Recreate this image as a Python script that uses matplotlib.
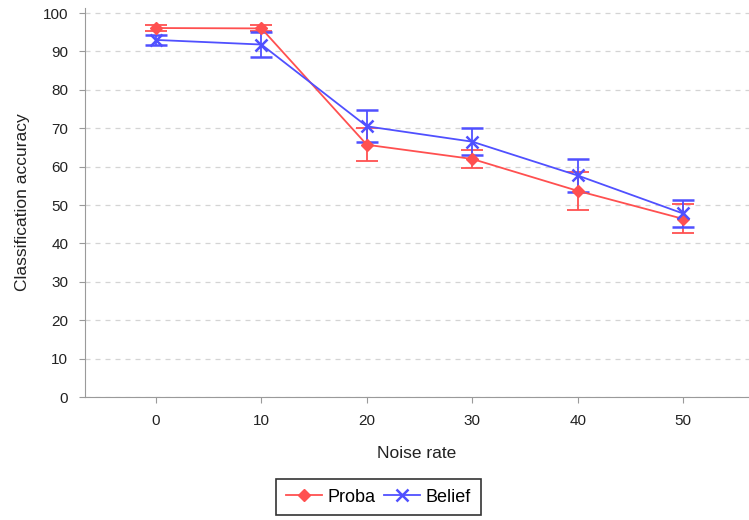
import numpy as np
import matplotlib.pyplot as plt
from matplotlib.lines import Line2D

plt.rcParams['font.family'] = ['Liberation Sans', 'DejaVu Sans']

noise = [0, 10, 20, 30, 40, 50]
proba = [96.1, 96.0, 65.7, 62.0, 53.7, 46.4]
proba_err = [0.8, 0.8, 4.3, 2.3, 5.0, 3.8]
belief = [93.0, 91.8, 70.5, 66.5, 57.7, 47.8]
belief_err = [1.3, 3.2, 4.2, 3.5, 4.2, 3.5]

red = '#ff5050'
blue = '#5050ff'

fig = plt.figure(figsize=(7.49, 5.2), dpi=100)
ax = fig.add_axes([0.1135, 0.2365, 0.8865, 0.748])

ax.errorbar(noise, proba, yerr=proba_err, color=red, marker='D', ms=6,
            lw=1.3, capsize=8, capthick=1.3, elinewidth=1.3, zorder=3)
ax.errorbar(noise, belief, yerr=belief_err, color=blue, marker='x', ms=9, mew=1.8,
            lw=1.3, capsize=8, capthick=1.3, elinewidth=1.3, zorder=3)

ax.set_xlim(-6.74, 56.26)
ax.set_ylim(0, 101.3)
ax.set_xticks(noise)
ax.set_yticks(np.arange(0, 101, 10))
ax.yaxis.grid(True, linestyle=(0, (4, 4)), color='#d4d4d4', lw=0.9)
ax.set_axisbelow(True)

for s in ['top', 'right']:
    ax.spines[s].set_visible(False)
for s in ['left', 'bottom']:
    ax.spines[s].set_color('#9a9a9a')
ax.tick_params(colors='#9a9a9a', labelcolor='#222222', labelsize=11, length=4)
ax.tick_params(axis='y', pad=8)
ax.tick_params(axis='x', pad=8)

ax.set_xlabel('Noise rate', fontsize=12.5, color='#222222', labelpad=13)
ax.set_ylabel('Classification accuracy', fontsize=12.5, color='#222222', labelpad=9)

handles = [Line2D([], [], color=red, marker='D', ms=6, lw=1.3),
           Line2D([], [], color=blue, marker='x', ms=9, mew=1.8, lw=1.3)]
leg = fig.legend(handles, ['Proba', 'Belief'], loc='lower center',
                 bbox_to_anchor=(0.505, 0.0), ncol=2,
                 fontsize=13, frameon=True, fancybox=False, edgecolor='black',
                 handlelength=2.0, handletextpad=0.3, columnspacing=0.5,
                 borderpad=0.55, borderaxespad=0.25)
leg.get_frame().set_linewidth(1.2)

fig.savefig('out.png', dpi=100)
